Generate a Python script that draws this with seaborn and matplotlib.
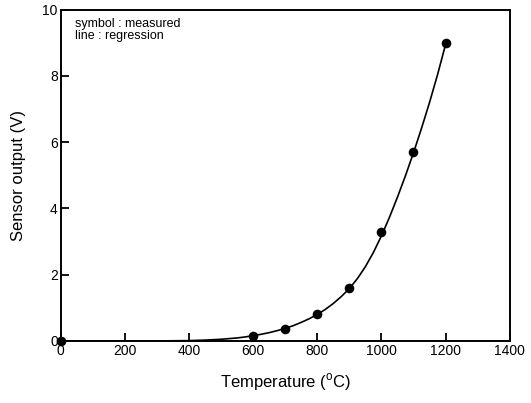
import numpy as np
import pandas as pd
import matplotlib
matplotlib.use("Agg")
import matplotlib.pyplot as plt
import seaborn as sns

# measured points
temp_measured = [0, 600, 700, 800, 900, 1000, 1100, 1200]
volt_measured = [0.0, 0.15, 0.37, 0.80, 1.60, 3.30, 5.70, 9.00]

# regression curve
temp_curve = [0, 100, 200, 300, 350, 400, 450, 500, 525, 550, 575, 600, 625, 650,
              675, 700, 725, 750, 775, 800, 825, 850, 875, 900, 925, 950, 975,
              1000, 1025, 1050, 1075, 1100, 1125, 1150, 1175, 1200]
volt_curve = [0.0, 0.0, 0.0, 0.0, 0.005, 0.01, 0.025, 0.05, 0.07, 0.09, 0.12, 0.16,
              0.20, 0.25, 0.31, 0.38, 0.46, 0.56, 0.67, 0.80, 0.95, 1.13, 1.34,
              1.58, 1.88, 2.24, 2.67, 3.17, 3.73, 4.34, 4.99, 5.68, 6.42, 7.20,
              8.04, 8.95]

x_ticks = [0, 200, 400, 600, 800, 1000, 1200, 1400]
y_ticks = [0, 2, 4, 6, 8, 10]

sns.set_style("ticks")
plt.rcParams['font.family'] = ['Liberation Sans', 'DejaVu Sans']
plt.rcParams['mathtext.fontset'] = 'custom'
plt.rcParams['mathtext.rm'] = 'Liberation Sans'
plt.rcParams['text.color'] = 'black'
plt.rcParams['axes.labelcolor'] = 'black'
plt.rcParams['xtick.color'] = 'black'
plt.rcParams['ytick.color'] = 'black'

df_m = pd.DataFrame({'Temperature': temp_measured, 'Output': volt_measured})
df_c = pd.DataFrame({'Temperature': temp_curve, 'Output': volt_curve})

fig = plt.figure(figsize=(5.31, 4.03), dpi=100)
ax = fig.add_axes([0.114, 0.154, 0.846, 0.822])

sns.lineplot(data=df_c, x='Temperature', y='Output', color='black', linewidth=1.2, ax=ax)
sns.scatterplot(data=df_m, x='Temperature', y='Output', color='black', s=48,
                edgecolor='black', linewidth=0, ax=ax, clip_on=False, zorder=5)

ax.set_xlim(0, 1400)
ax.set_ylim(0, 10)
ax.set_xticks(x_ticks)
ax.set_yticks(y_ticks)
ax.tick_params(direction='in', length=6, width=1.3, labelsize=10, pad=2,
               bottom=True, left=True, top=False, right=False)
for sp in ax.spines.values():
    sp.set_visible(True)
    sp.set_linewidth(1.4)
    sp.set_color('black')

ax.set_xlabel(r'Temperature ($^{\rm o}$C)', fontsize=12, labelpad=10)
ax.set_ylabel('Sensor output (V)', fontsize=12, labelpad=12)

ax.text(0.033, 0.975, 'symbol : measured\nline : regression', transform=ax.transAxes,
        fontsize=9, va='top', ha='left', linespacing=1.05)

fig.savefig('out.png', dpi=100)
